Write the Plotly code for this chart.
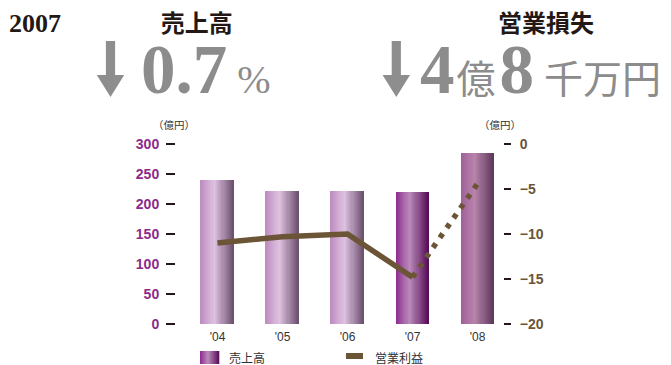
import plotly.graph_objects as go

# ---- data ----
years = ["'04", "'05", "'06", "'07", "'08"]
sales = [240.5, 222.0, 222.0, 220.5, 284.5]          # 売上高 (億円)
profit_years = ["'04", "'05", "'06", "'07"]
profit = [-11.0, -10.3, -10.0, -14.8]                 # 営業利益 (億円), actual
forecast_years = ["'07", "'08"]
forecast = [-14.8, -4.4]                              # 営業利益 (億円), forecast
left_ticks = [0, 50, 100, 150, 200, 250, 300]
right_ticks = [0, -5, -10, -15, -20]

# ---- page geometry ----
W, H = 671, 365
ML, MR, MT, MB = 176, 168, 144, 41
PW, PH = W - ML - MR, H - MT - MB


def px(x):
    return (x - ML) / PW


def py(y):
    return (MT + PH - y) / PH


def hex2rgb(h):
    h = h.lstrip("#")
    return [int(h[i:i + 2], 16) for i in (0, 2, 4)]


def grad(stops, t):
    for (p0, c0), (p1, c1) in zip(stops, stops[1:]):
        if p0 <= t <= p1:
            f = (t - p0) / (p1 - p0)
            a, b = hex2rgb(c0), hex2rgb(c1)
            return "rgb(%d,%d,%d)" % tuple(round(a[i] + (b[i] - a[i]) * f) for i in range(3))
    return c1


# horizontal shading for each bar (left edge, highlight, right edge)
past = [(0.0, "#BE8CC1"), (0.42, "#DEC2E0"), (1.0, "#6B4F6E")]
cur = [(0.0, "#8C2A8E"), (0.42, "#BA8CBA"), (1.0, "#560C58")]
nxt = [(0.0, "#9E5E9A"), (0.42, "#B984AB"), (1.0, "#5C385B")]
bar_grads = [past, past, past, cur, nxt]

fig = go.Figure()

BAR_W = 33 / 65
N = 30
step = BAR_W / N
for k in range(N):
    t = (k + 0.5) / N
    w = step * (1.0 if k == N - 1 else 1.6)
    fig.add_trace(go.Bar(
        x=years, y=sales, width=w, offset=-BAR_W / 2 + k * step,
        marker=dict(color=[grad(g, t) for g in bar_grads], line=dict(width=0)),
        showlegend=False, hoverinfo="skip",
    ))

BROWN = "#6B5536"
fig.add_trace(go.Scatter(
    x=profit_years, y=profit, yaxis="y2", mode="lines",
    line=dict(color=BROWN, width=5.5), showlegend=False,
))
fig.add_trace(go.Scatter(
    x=forecast_years, y=forecast, yaxis="y2", mode="lines",
    line=dict(color=BROWN, width=5.5, dash="5px,7px"), showlegend=False,
))

PURPLE = "#8B2A8B"
TICK = "#231815"
fig.update_layout(
    width=W, height=H,
    margin=dict(l=ML, r=MR, t=MT, b=MB, pad=0),
    paper_bgcolor="white", plot_bgcolor="white",
    barmode="overlay", bargap=0,
    showlegend=False,
    xaxis=dict(
        type="category", range=[-0.638, 4.392], showgrid=False, showline=False,
        zeroline=False, ticks="", ticklabelstandoff=4,
        tickfont=dict(family="Liberation Sans", size=12, color="#333333"),
    ),
    yaxis=dict(
        range=[0, 300], tickvals=left_ticks, showgrid=False, showline=False, zeroline=False,
        ticks="outside", ticklen=9, tickwidth=2, tickcolor=TICK, ticklabelstandoff=4,
        tickfont=dict(family="Liberation Sans", size=14, color=PURPLE, weight="bold"),
    ),
    yaxis2=dict(
        range=[-20, 0], tickvals=right_ticks, overlaying="y", side="right",
        showgrid=False, showline=False, zeroline=False,
        ticks="outside", ticklen=7, tickwidth=2, tickcolor=TICK, ticklabelstandoff=6,
        tickfont=dict(family="Liberation Sans", size=14, color=BROWN, weight="bold"),
    ),
)

GRAY = "#8C8C8C"
CJK = "Noto Sans CJK JP"
SERIF = "Liberation Serif"


def note(text, x, y, size, color, family, xanchor="center", yanchor="middle"):
    fig.add_annotation(
        text=text, x=px(x), y=py(y), xref="paper", yref="paper",
        xanchor=xanchor, yanchor=yanchor, showarrow=False, align="center",
        font=dict(size=size, color=color, family=family),
    )


def gap(n):
    # blank spacer of n pixels (a serif space is a quarter em wide)
    return "<span style='font-size:%dpx'> </span>" % (4 * n)


def jgap(n):
    # ideographic space, one em wide
    return "<span style='font-family:Noto Sans CJK JP;font-size:%dpx'>\u3000</span>" % n


def head(s):
    return ("<span style='font-family:Noto Sans CJK JP;font-size:24px;color:#231815'>"
            "<b>%s</b></span>" % s)


JP = "<span style='font-family:Noto Sans CJK JP;font-size:39px'>%s</span>"
BIG = "<span style='font-size:69px'><b>%s</b></span>"

# headline: caption above each big figure, in one block
note("<b>2007</b>", 7, 24, 26, "#231815", SERIF, xanchor="left")
note(head("売上高") + jgap(18) + "<br>"
     + BIG % "0.7" + gap(10) + "<span style='font-size:40px'>%</span>",
     139, 56.5, 47, GRAY, SERIF, xanchor="left")
note(jgap(11) + head("営業損失") + "<br>"
     + BIG % "4" + gap(2) + JP % "億" + gap(4) + BIG % "8" + gap(10) + JP % "千万円",
     418, 56.5, 47, GRAY, SERIF, xanchor="left")

# down arrows beside the headline figures
for cx in (110.5, 396.3):
    path = "M {a},{b} L {c},{b} L {c},{d} L {e},{d} L {f},{g} L {h},{d} L {a},{d} Z".format(
        a=px(cx - 4.6), c=px(cx + 4.6), b=py(41), d=py(75),
        e=px(cx + 13.7), f=px(cx), g=py(97), h=px(cx - 13.7))
    fig.add_shape(type="path", path=path, xref="paper", yref="paper",
                  fillcolor="#8E8E8E", line=dict(width=0))

# axis units
note("（億円）", 174, 124, 10.5, "#333333", CJK)
note("（億円）", 500, 124, 10.5, "#333333", CJK)

# legend
for k in range(19):
    t = (k + 0.5) / 19
    fig.add_shape(type="rect", xref="paper", yref="paper",
                  x0=px(200 + k), x1=px(201.3 + k), y0=py(351), y1=py(364),
                  fillcolor=grad(cur, t), line=dict(width=0))
note("売上高", 227, 357, 12, "#333333", CJK, xanchor="left")
fig.add_shape(type="rect", xref="paper", yref="paper",
              x0=px(346), x1=px(363), y0=py(353), y1=py(359),
              fillcolor=BROWN, line=dict(width=0))
note("営業利益", 373, 357, 12, "#333333", CJK, xanchor="left")

fig.write_html("out.html")
